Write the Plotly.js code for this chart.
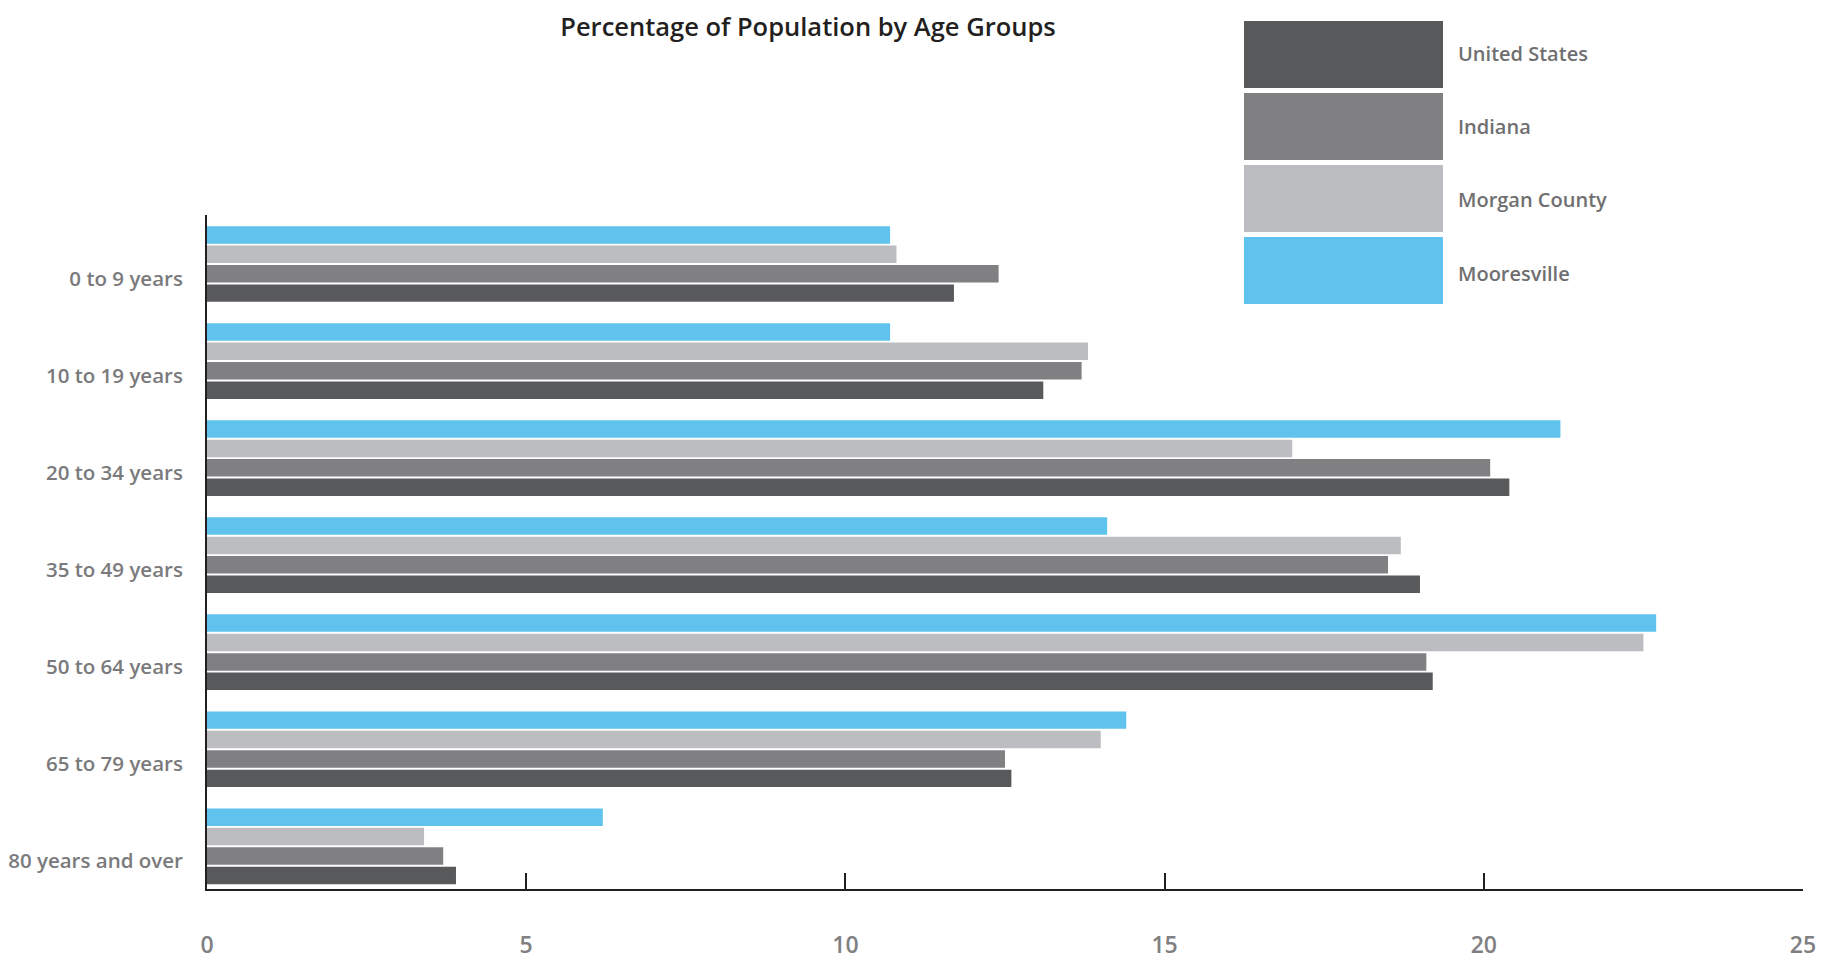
<!DOCTYPE html>
<html>
<head>
<meta charset="utf-8">
<script src="https://cdn.plot.ly/plotly-3.0.1.min.js"></script>
<style>html,body{margin:0;padding:0;background:#fff;}#chart{width:1836px;height:961px;}</style>
</head>
<body>
<div id="chart"></div>
<script>
// ---- data ----
var categories = ["0 to 9 years", "10 to 19 years", "20 to 34 years", "35 to 49 years", "50 to 64 years", "65 to 79 years", "80 years and over"];
var seriesNames = ["Mooresville", "Morgan County", "Indiana", "United States"];
var mooresville  = [10.7, 10.7, 21.2, 14.1, 22.7, 14.4, 6.2];
var morganCounty = [10.8, 13.8, 17.0, 18.7, 22.5, 14.0, 3.4];
var indiana      = [12.4, 13.7, 20.1, 18.5, 19.1, 12.5, 3.7];
var unitedStates = [11.7, 13.1, 20.4, 19.0, 19.2, 12.6, 3.9];
var xTickValues = [0, 5, 10, 15, 20, 25];
var legendOrder = ["United States", "Indiana", "Morgan County", "Mooresville"];

// ---- styles ----
var colors = {
  "United States": "#58595B",
  "Indiana": "#808083",
  "Morgan County": "#BCBDC0",
  "Mooresville": "#5FC3EE"
};
var seriesValues = [mooresville, morganCounty, indiana, unitedStates];
var FONT = "Open Sans, DejaVu Sans, sans-serif";

var W = 1836, H = 961;
var M = {l: 207, r: 33, t: 215, b: 72};
var plotH = H - M.t - M.b;
var plotW = W - M.l - M.r;

var traces = seriesNames.map(function (name, i) {
  return {
    type: "bar",
    orientation: "h",
    name: name,
    y: categories,
    x: seriesValues[i],
    marker: {color: colors[name], line: {width: 0}},
    hoverinfo: "x+name"
  };
});

// legend drawn as shapes/annotations (large swatches)
function py(p) { return (H - M.b - p) / plotH; }
function px(p) { return (p - M.l) / plotW; }
var shapes = [];
var annotations = [];
legendOrder.forEach(function (name, i) {
  var top = 21 + i * 72;
  shapes.push({
    type: "rect", xref: "paper", yref: "paper",
    x0: px(1244), x1: px(1443), y0: py(top + 67), y1: py(top),
    fillcolor: colors[name], line: {width: 0}, layer: "above"
  });
  annotations.push({
    xref: "paper", yref: "paper", x: px(1456), y: py(top + 32 + i * 1.5),
    xanchor: "left", yanchor: "middle", showarrow: false,
    text: name, font: {family: FONT, size: 20, color: "#6f6f71", weight: 600}
  });
});

var layout = {
  width: W, height: H,
  margin: M,
  paper_bgcolor: "#fff", plot_bgcolor: "#fff",
  showlegend: false,
  barmode: "group",
  bargap: 0.2,
  bargroupgap: 0.1,
  title: {
    text: "Percentage of Population by Age Groups",
    x: 808 / W, xanchor: "center", y: 1 - 27 / H, yanchor: "middle",
    font: {family: FONT, size: 25.5, color: "#231f20", weight: 600}
  },
  xaxis: {
    range: [0, 25],
    tickvals: xTickValues,
    ticktext: xTickValues.map(String),
    ticks: "inside", ticklen: 16, tickwidth: 2, tickcolor: "#231f20",
    showline: true, linecolor: "#231f20", linewidth: 2,
    showgrid: false, zeroline: false,
    ticklabelstandoff: 34,
    tickfont: {family: FONT, size: 23, color: "#808083", weight: 600},
    fixedrange: true
  },
  yaxis: {
    type: "category",
    range: [6.44, -0.505],
    showline: true, linecolor: "#231f20", linewidth: 2,
    ticks: "", showgrid: false, zeroline: false,
    ticklabelstandoff: 18,
    ticklabelshift: -15,
    tickfont: {family: FONT, size: 20.5, color: "#7a7a7c", weight: 600},
    fixedrange: true
  },
  shapes: shapes,
  annotations: annotations
};

Plotly.newPlot("chart", traces, layout, {displayModeBar: false, staticPlot: true});
</script>
</body>
</html>
